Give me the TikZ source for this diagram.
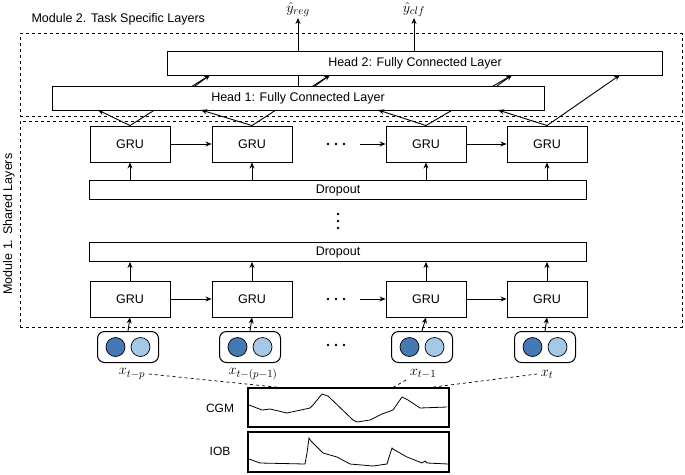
\documentclass[tikz,border=0pt]{standalone}
\usepackage{fontspec}
\setmainfont{Liberation Sans}
\usetikzlibrary{arrows.meta}
\begin{document}
\begin{tikzpicture}[x=1pt,y=-1pt,
  box/.style={draw,line width=0.9pt,fill=white,inner sep=0pt,font=\fontsize{12.5}{14}\selectfont},
  gru/.style={box,minimum width=80pt,minimum height=36pt},
  arr/.style={-{Stealth[length=6pt,width=5pt]},line width=0.9pt},
  ln/.style={line width=0.9pt},
  mod/.style={draw,dashed,line width=1pt},
  inbox/.style={draw,line width=1pt,rounded corners=7pt,minimum width=61pt,minimum height=31pt,inner sep=0pt},
  dk/.style={circle,draw,line width=0.7pt,fill={rgb,255:red,70;green,120;blue,180},minimum size=19pt,inner sep=0pt},
  lt/.style={circle,draw,line width=0.7pt,fill={rgb,255:red,165;green,200;blue,230},minimum size=19pt,inner sep=0pt},
  dot/.style={circle,fill=black,minimum size=2.6pt,inner sep=0pt},
  ml/.style={font=\fontsize{15}{17}\selectfont},
  dsh/.style={dashed,line width=0.7pt}]
\useasboundingbox (0,0) rectangle (685,474);
% modules
\node[mod,minimum width=662pt,minimum height=83pt,inner sep=0pt] (m2) at (351,75) {};
\node[mod,minimum width=662pt,minimum height=206pt,inner sep=0pt] (m1) at (351,224) {};
\node[anchor=west,font=\fontsize{12.5}{14}\selectfont] (m2t) at (28,19) {Module 2. Task Specific Layers};
\node[rotate=90,font=\fontsize{12.5}{14}\selectfont] (m1t) at (9,224) {Module 1. Shared Layers};
% GRUs row 1
\node[gru] (g1) at (130,144) {GRU};
\node[gru] (g2) at (252,144) {GRU};
\node[gru] (g3) at (426,144) {GRU};
\node[gru] (g4) at (547,144) {GRU};
\foreach \x [count=\i] in {328,336,344} \node[dot] (da\i) at (\x,144) {};
% lines to head 2 (behind head 1)
\coordinate (h2a) at (210,75);
\coordinate (h2b) at (330,75);
\coordinate (h2c) at (512,75);
\draw[ln] (g1.north) -- (h2a);
\draw[ln] (g2.north) -- (h2b);
\draw[ln] (g3.north) -- (h2c);
% heads
\node[box,minimum width=495pt,minimum height=24pt] (h2) at (415,63) {Head 2: Fully Connected Layer};
\node[box,minimum width=492pt,minimum height=24pt] (h1) at (298,98) {Head 1: Fully Connected Layer};
\draw[arr] (195,86) -- (h2a);
\draw[arr] (315,86) -- (h2b);
\draw[arr] (497,86) -- (h2c);
\draw[ln] (h1.north) -- (h2.south -| h1.north);
\draw[arr] (g4.north) -- (620,75);
\draw[arr] (g1.north) -- (98,110);
\draw[arr] (g2.north) -- (201,110);
\draw[arr] (g3.north) -- (378,110);
\draw[arr] (g4.north) -- (498,110);
% outputs
\coordinate (o1) at (298,18);
\coordinate (o2) at (414,18);
\draw[arr] (h2.north -| o1) -- (o1);
\draw[arr] (h2.north -| o2) -- (o2);
\node[anchor=south,ml,inner sep=1pt] (yr) at (298,18) {$\hat{y}_{reg}$};
\node[anchor=south,ml,inner sep=1pt] (yc) at (414,18) {$\hat{y}_{clf}$};
% horizontal arrows row 1
\draw[arr] (g1.east) -- (g2.west);
\draw[arr] (360,144) -- (g3.west);
\draw[arr] (g3.east) -- (g4.west);
% dropouts
\node[box,minimum width=497pt,minimum height=19pt] (dr1) at (338,190) {Dropout};
\node[box,minimum width=497pt,minimum height=19pt] (dr2) at (338,252) {Dropout};
\foreach \y [count=\i] in {214,221,228} \node[dot] (dv\i) at (338,\y) {};
\foreach \g in {g1,g2,g3,g4} \draw[arr] (dr1.north -| \g) -- (\g.south);
% GRU row 2
\node[gru] (k1) at (130,299) {GRU};
\node[gru] (k2) at (252,299) {GRU};
\node[gru] (k3) at (426,299) {GRU};
\node[gru] (k4) at (547,299) {GRU};
\foreach \x [count=\i] in {328,336,344} \node[dot] (db\i) at (\x,299) {};
\foreach \g in {k1,k2,k3,k4} \draw[arr] (\g.north) -- (dr2.south -| \g);
\draw[arr] (k1.east) -- (k2.west);
\draw[arr] (360,299) -- (k3.west);
\draw[arr] (k3.east) -- (k4.west);
% inputs
\foreach \n/\x in {i1/128,i2/250,i3/422,i4/545}{
  \node[inbox] (\n) at (\x,347) {};
  \node[dk] (\n d) at (\x-12.5,347) {};
  \node[lt] (\n l) at (\x+12.5,347) {};
}
\draw[arr] (i1.north) -- (k1.south);
\draw[arr] (i2.north) -- (k2.south);
\draw[arr] (i3.north) -- (k3.south);
\draw[arr] (i4.north) -- (k4.south);
\foreach \x [count=\i] in {328,336,344} \node[dot] (dc\i) at (\x,345) {};
\node[ml] (x1) at (132,374) {$x_{t-p}$};
\node[ml] (x2) at (253,374) {$x_{t-(p-1)}$};
\node[ml] (x3) at (423,374) {$x_{t-1}$};
\node[ml] (x4) at (547,374) {$x_t$};
% signal boxes
\node[draw,line width=1.2pt,minimum width=201pt,minimum height=39pt,inner sep=0pt] (cgm) at (348.5,407.5) {};
\node[draw,line width=1.2pt,minimum width=201pt,minimum height=40pt,inner sep=0pt] (iob) at (348.5,452) {};
\node[font=\fontsize{12}{14}\selectfont] (cl) at (220,408) {CGM};
\node[font=\fontsize{12}{14}\selectfont] (il) at (220,451) {IOB};
\coordinate (c1) at (285,388);
\coordinate (c3) at (392,388);
\coordinate (c4) at (426,388);
\draw[dsh] (x1.east) -- (c1);
\draw[dsh] (406,380) -- (c3);
\draw[dsh] (x4.west) -- (c4);
\draw[line width=0.8pt] (249,405) -- (262,410) -- (270,409) -- (287,413) -- (310,408) -- (313,405) -- (322,394) -- (328,396) -- (353,420) -- (357,422) -- (370,420) -- (382,414) -- (393,410) -- (402,397) -- (408,400) -- (420,408) -- (447,407);
\draw[line width=0.8pt] (249,459) -- (260,463) -- (305,464) -- (307,453) -- (309,438) -- (311,441) -- (323,453) -- (337,457) -- (350,464) -- (373,466) -- (387,464) -- (390,454) -- (392,448) -- (393,449) -- (407,457) -- (422,463) -- (425,461) -- (427,463) -- (448,464);
\end{tikzpicture}
\end{document}
